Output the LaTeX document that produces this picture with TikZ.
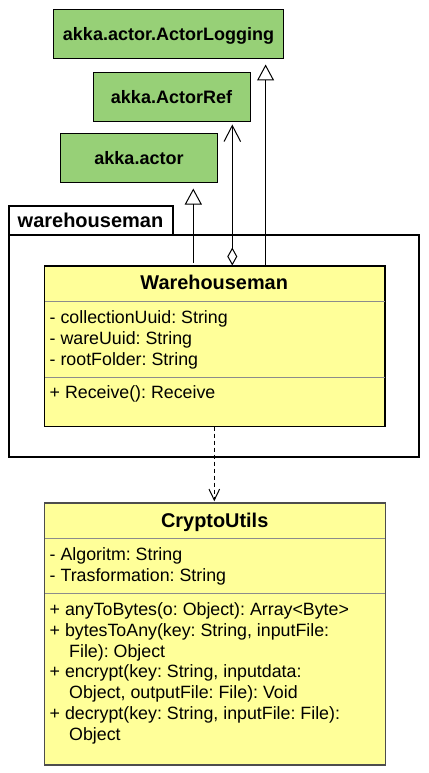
\documentclass[tikz,border=0pt]{standalone}
\usepackage{fontspec}
\setmainfont{Liberation Sans}
\usetikzlibrary{arrows.meta}
\definecolor{WHGreenFill}{HTML}{97D077}
\definecolor{WHYellowFill}{HTML}{FFFF99}
\definecolor{WHSepLine}{HTML}{8C8C8C}
\definecolor{WHCryptoStroke}{HTML}{4D4D4D}
\frenchspacing

\begin{document}
\begin{tikzpicture}[x=1pt,y=-1pt,
  libbox/.style={draw=black,fill=WHGreenFill,line width=1pt,minimum height=49pt,
        font=\fontsize{18}{20}\selectfont\bfseries,text height=12.9pt,text depth=0pt},
  classbox/.style={draw=black,fill=WHYellowFill,line width=1pt,minimum width=340pt},
  pkgbox/.style={draw=black,line width=2pt},
  classname/.style={anchor=base,inner sep=0pt,font=\fontsize{19.9}{22}\selectfont\bfseries},
  member/.style={anchor=base west,inner sep=0pt,font=\fontsize{17.8}{20.8}\selectfont},
  sepline/.style={draw=WHSepLine,line width=1pt},
  genline/.style={line width=1pt,-{Triangle[open,length=16pt,width=17pt]},shorten >=5.5pt},
  aggline/.style={line width=1pt,{Diamond[open,length=18pt,width=10pt]}-{Straight Barb[length=16pt,width=16.6pt]},shorten >=2pt},
  depline/.style={line width=1pt,dash pattern=on 4pt off 3pt,-{Straight Barb[length=11pt,width=10.6pt]},shorten >=1.5pt}]
  \useasboundingbox (0,0) rectangle (428,773);

  % library boxes
  \node[libbox,minimum width=230pt] (logging) at (168.5,34) {akka.actor.ActorLogging};
  \node[libbox,minimum width=157pt] (actorref) at (171.5,97.5) {akka.ActorRef};
  \node[libbox,minimum width=157pt] (actor) at (139,158) {akka.actor};

  % package
  \node[pkgbox,minimum width=410.5pt,minimum height=222pt] (pkg) at (213.75,346) {};
  \node[pkgbox,minimum width=164pt,minimum height=29pt,
        font=\fontsize{20}{22}\selectfont\bfseries,text height=14.3pt,text depth=0pt]
        (pkgtab) at (90.5,220.5) {warehouseman};

  % Warehouseman
  \node[classbox,minimum height=160pt] (whman) at (214.5,346) {};
  \node[classname] (whmanname) at (214.2,289.7) {Warehouseman};
  \draw[sepline] (whman.west |- 0,301) -- (whman.east |- 0,301);
  \draw[sepline] (whman.west |- 0,377) -- (whman.east |- 0,377);
  \node[member] (whA) at (49.5,323.5) {- collectionUuid: String};
  \node[member] (whB) at (49.5,344.5) {- wareUuid: String};
  \node[member] (whC) at (49.5,365.5) {- rootFolder: String};
  \node[member] (whOp) at (49.5,398.7) {+ Receive(): Receive};
  \draw[classbox,fill=none,minimum width=0pt] (whman.north west) rectangle (whman.south east);

  % CryptoUtils
  \node[classbox,draw=WHCryptoStroke,minimum width=340.5pt,minimum height=261.5pt] (crypto) at (214.75,634) {};
  \node[classname] (cryptoname) at (214.7,527.5) {CryptoUtils};
  \draw[sepline] (crypto.west |- 0,538) -- (crypto.east |- 0,538);
  \draw[sepline] (crypto.west |- 0,593) -- (crypto.east |- 0,593);
  \node[member] (cuA) at (49.5,560.5) {- Algoritm: String};
  \node[member] (cuB) at (49.5,581.5) {- Trasformation: String};
  \node[member] (cuOpA) at (49.5,615.5) {+ anyToBytes(o: Object): Array<Byte>};
  \node[member] (cuOpB) at (49.5,636.3) {+ bytesToAny(key: String, inputFile:};
  \node[member] (cuOpBb) at (49.5,657.1) {\hspace*{19.5pt}File): Object};
  \node[member] (cuOpC) at (49.5,677.9) {+ encrypt(key: String, inputdata:};
  \node[member] (cuOpCb) at (49.5,698.7) {\hspace*{19.5pt}Object, outputFile: File): Void};
  \node[member] (cuOpD) at (49.5,719.5) {+ decrypt(key: String, inputFile: File):};
  \node[member] (cuOpDb) at (49.5,740.3) {\hspace*{19.5pt}Object};
  \draw[WHCryptoStroke,line width=1pt] (crypto.north west) rectangle (crypto.south east);

  % connectors
  \draw[genline,shorten <=3pt] (whman.north -| 193.3,0) -- (actor.south -| 193.3,0);
  \draw[aggline] (whman.north -| 232.3,0) -- (actorref.south -| 232.3,0);
  \draw[genline] (whman.north -| 265.6,0) -- (logging.south -| 265.6,0);
  \draw[depline] (whman.south -| 214.3,0) -- (crypto.north -| 214.3,0);
\end{tikzpicture}
\end{document}
